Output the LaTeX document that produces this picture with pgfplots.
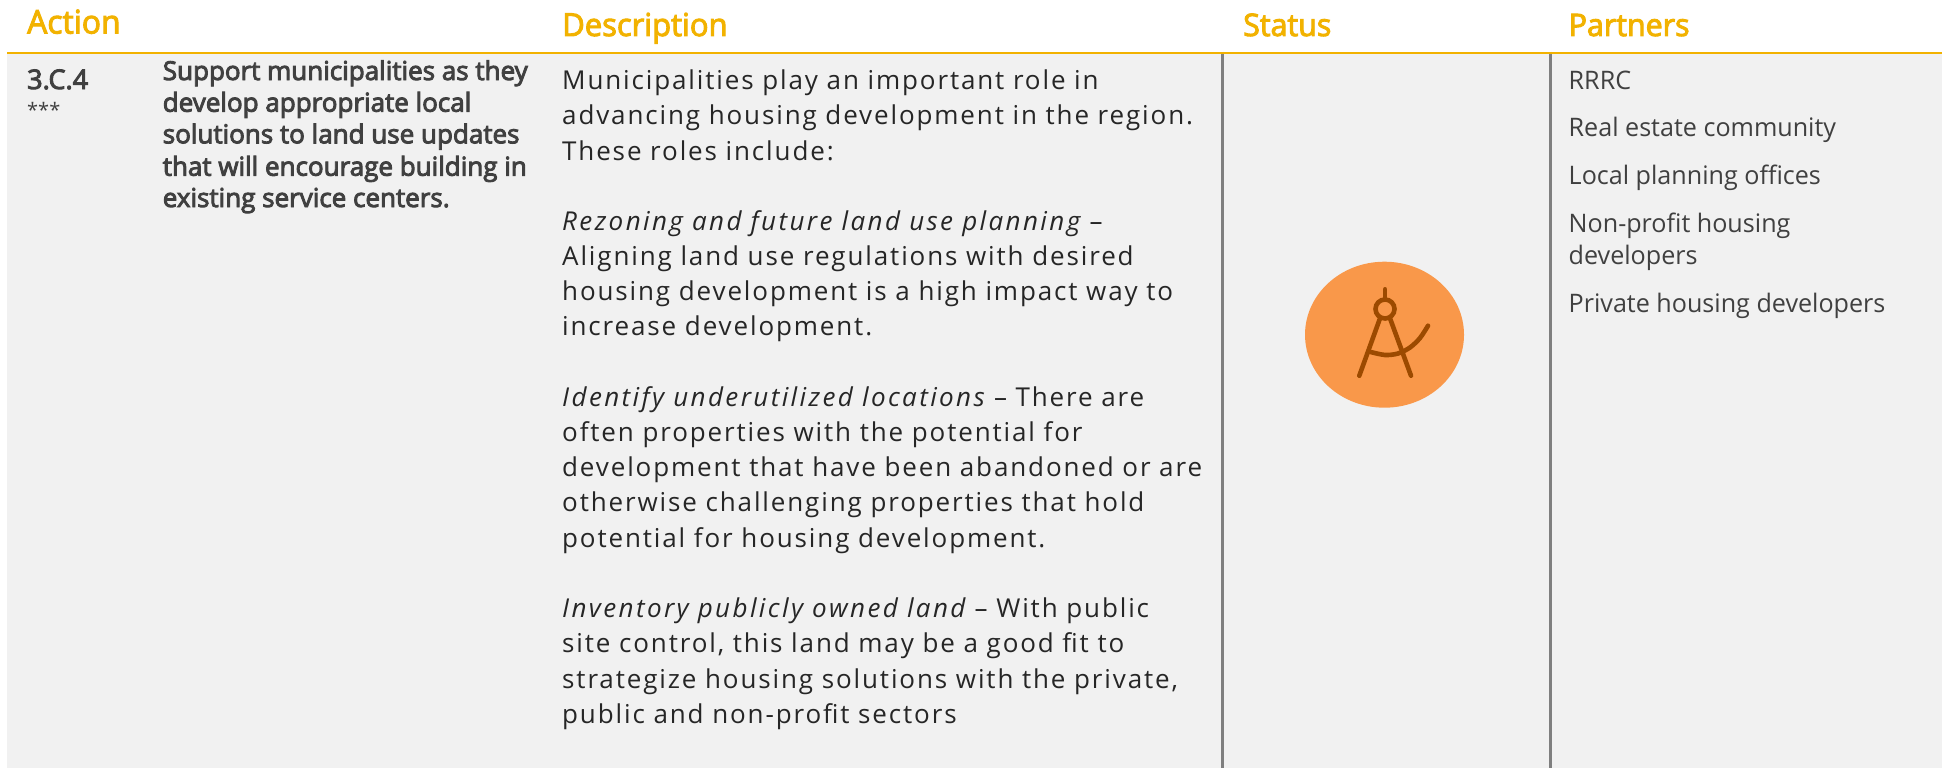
\documentclass[border=0pt]{standalone}
\usepackage{fontspec}
\usepackage{pgfplots}
\pgfplotsset{compat=1.18}
\setmainfont{Open Sans}
\newfontfamily\headf[FakeStretch=0.98,FakeBold=3]{Open Sans}
\newfontfamily\boldf[FakeStretch=1.0,FakeBold=3.5]{Open Sans}
\newfontfamily\descf[LetterSpace=7.2]{Open Sans}
\newfontfamily\descit[LetterSpace=9.2]{Open Sans Italic}
\newfontfamily\partf[FakeStretch=0.985]{Open Sans}
\definecolor{hd}{HTML}{F2B200}
\definecolor{bg}{HTML}{F1F1F1}
\definecolor{vl}{HTML}{7F7F7F}
\definecolor{tx}{HTML}{404040}
\definecolor{dt}{HTML}{262626}
\definecolor{circ}{HTML}{F9984A}
\definecolor{ic}{HTML}{9C4A00}
\newcommand{\T}[3]{\node[anchor=base west,inner sep=0pt,text=tx] at (axis cs:#1,#2) {\strut #3};}
\newcommand{\Hd}[3]{\node[anchor=base west,inner sep=0pt,text=hd] at (axis cs:#1,#2) {\fontsize{31}{31}\headf #3};}
\newcommand{\B}[2]{\T{162.6}{#1}{\fontsize{26}{26}\boldf #2}}
\newcommand{\D}[2]{\T{562}{#1}{\color{dt}\fontsize{26}{26}\descf #2}}
\newcommand{\DI}[3]{\T{562}{#1}{\color{dt}\fontsize{26}{26}{\descit #2}\descf #3}}
\newcommand{\Pa}[2]{\T{1568.5}{#1}{\fontsize{25.5}{26}\partf #2}}
\begin{document}
\begin{tikzpicture}
\begin{axis}[scale only axis,width=1942pt,height=768pt,xmin=0,xmax=1942,ymin=0,ymax=768,y dir=reverse,hide axis]
\addplot[fill=white,draw=none] coordinates {(0,0)(1942,0)(1942,768)(0,768)} -- cycle;
\addplot[fill=bg,draw=none] coordinates {(7,53)(1942,53)(1942,768)(7,768)} -- cycle;
\addplot[vl,line width=2.6pt] coordinates {(1222.5,52)(1222.5,768)};
\addplot[vl,line width=2.6pt] coordinates {(1550.5,52)(1550.5,768)};
\addplot[hd,line width=2.6pt] coordinates {(7,53)(1942,53)};
\fill[circ] (axis cs:1384.5,334.7) ellipse [x radius=79.5pt,y radius=73pt];
\addplot[ic,line width=4.6pt,line cap=round] coordinates {(1385,289.3)(1385,298.3)};
\addplot[ic,line width=4.6pt,line cap=round] coordinates {(1380,318.3)(1359.3,375.7)};
\addplot[ic,line width=4.6pt,line cap=round] coordinates {(1390,318.3)(1411,375.7)};
\addplot[ic,line width=4.6pt,line cap=round,smooth] coordinates {(1370.7,352)(1385,355)(1398,353.5)(1410,347.5)(1420,338)(1428,325.7)};
\draw[ic,line width=4.6pt] (axis cs:1385,309) circle [radius=9.5pt];
\node[anchor=base west,inner sep=0pt,text=hd] at (axis cs:27,33.5) {\fontsize{32.5}{32}\headf Action};
\node[anchor=base west,inner sep=0pt,text=hd] at (axis cs:562,36) {\fontsize{31.6}{32}\headf Description};
\Hd{1243}{36}{Status}
\Hd{1568.5}{36}{Partners}
\T{27}{89}{\fontsize{27}{27}\boldf 3.C.4}
\T{27}{117}{\fontsize{20}{20}\selectfont ***}
\B{80}{Support municipalities as they}
\B{111.7}{develop appropriate local}
\B{143.3}{solutions to land use updates}
\B{175.7}{that will encourage building in}
\B{207}{existing service centers.}
\D{89.5}{Municipalities play an important role in}
\D{124.5}{advancing housing development in the region.}
\D{160}{These roles include:}
\DI{230.5}{Rezoning and future land use planning }{–}
\D{265.5}{Aligning land use regulations with desired}
\D{300.5}{housing development is a high impact way to}
\D{335.5}{increase development.}
\DI{406.5}{Identify underutilized locations }{– There are}
\D{441.5}{often properties with the potential for}
\D{476.5}{development that have been abandoned or are}
\D{511.7}{otherwise challenging properties that hold}
\D{547}{potential for housing development.}
\DI{617.5}{Inventory publicly owned land }{– With public}
\D{652.5}{site control, this land may be a good fit to}
\D{688}{strategize housing solutions with the private,}
\D{723}{public and non-profit sectors}
\Pa{89}{RRRC}
\Pa{136}{Real estate community}
\Pa{184.4}{Local planning offices}
\Pa{232.7}{Non-profit housing}
\Pa{264.9}{developers}
\Pa{312}{Private housing developers}
\end{axis}
\end{tikzpicture}
\end{document}
